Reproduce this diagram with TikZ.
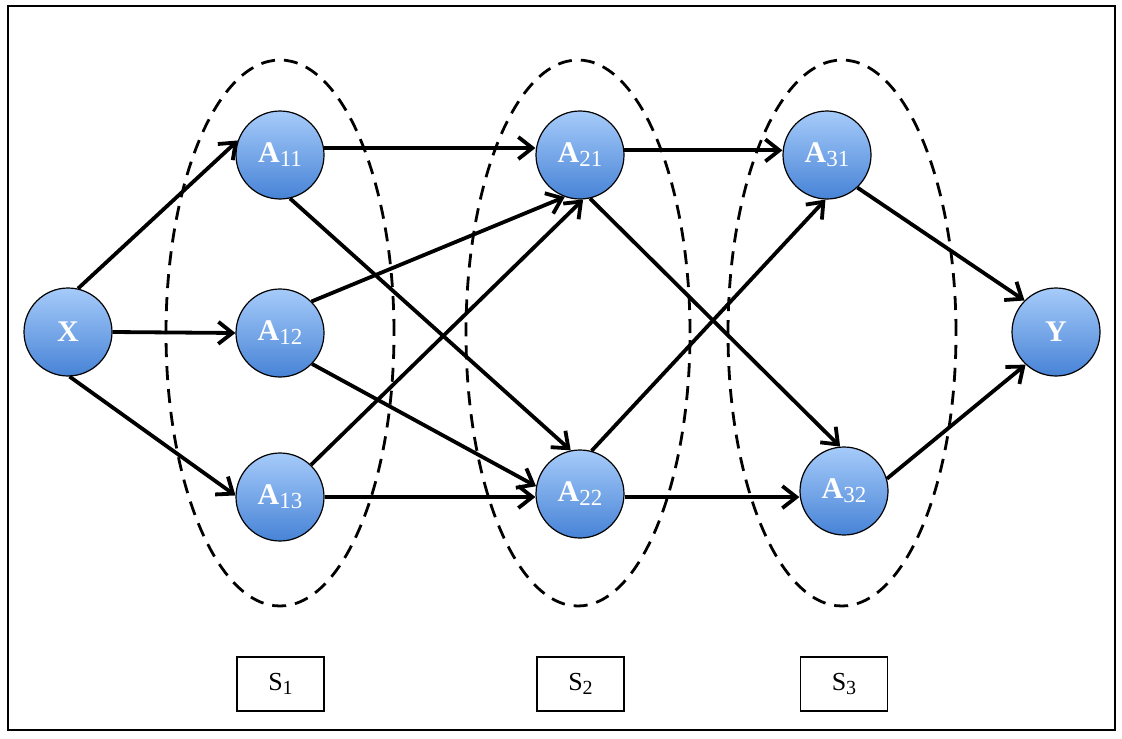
\documentclass[tikz,border=0pt]{standalone}
\usepackage{fontspec}
\setmainfont{Liberation Serif}
\usetikzlibrary{arrows.meta,shadings}
\definecolor{ctop}{HTML}{A6CBFA}
\definecolor{cbot}{HTML}{4783D6}
\newcommand{\subnum}[1]{\raisebox{-0.3ex}{\fontsize{11.5}{12}\selectfont\mdseries #1}}
\newcommand{\lblnum}[1]{\raisebox{-0.3ex}{\fontsize{10}{11}\selectfont #1}}
\tikzset{
  ball/.style={circle, draw=black, line width=0.6pt, minimum size=44pt, inner sep=0pt,
    top color=ctop, bottom color=cbot, text=white, font=\fontsize{15}{17}\selectfont\bfseries},
  grp/.style={draw=black, dash pattern=on 7pt off 4.5pt, line width=1.4pt},
  lbl/.style={draw=black, line width=0.7pt, minimum width=43.5pt, minimum height=27pt, inner sep=0pt,
    font=\fontsize{13}{15}\selectfont},
  arr/.style={line width=1.9pt, -{Straight Barb[length=7pt,width=11pt,line width=1.9pt]}}
}
\begin{document}
\begin{tikzpicture}[x=0.5pt,y=-0.5pt]
\useasboundingbox (0,0) rectangle (1122,738);
\draw[line width=1pt] (7.5,6.5) rectangle (1114.5,729.5);
% groups
\draw[grp] (280,333) ellipse [x radius=57pt, y radius=136.5pt];
\draw[grp] (578,333) ellipse [x radius=56pt, y radius=136.5pt];
\draw[grp] (842,333) ellipse [x radius=57pt, y radius=136.5pt];
% nodes
\node[ball] (X) at (68,332) {X};
\node[ball] (A11) at (280,155) {A\subnum{11}};
\node[ball] (A12) at (280,333) {A\subnum{12}};
\node[ball] (A13) at (280,497) {A\subnum{13}};
\node[ball] (A21) at (580,155) {A\subnum{21}};
\node[ball] (A22) at (580,494) {A\subnum{22}};
\node[ball] (A31) at (827,155) {A\subnum{31}};
\node[ball] (A32) at (844,491) {A\subnum{32}};
\node[ball] (Y) at (1056,332) {Y};
% labels
\node[lbl] (S1) at (280.5,684) {S\lblnum{1}};
\node[lbl] (S2) at (580.5,684) {S\lblnum{2}};
\node[lbl] (S3) at (844,684) {S\lblnum{3}};
% connectors
\draw[arr] (X.77) -- (A11.161);
\draw[arr] (X.east) -- (A12.west);
\draw[arr] (X.-88) -- (A13.178);
\draw[arr] (A11.9) -- (A11.9 -| A21.west);
\draw[arr] (A11.-77) -- (A22.102);
\draw[arr] (A12.45) -- (A21.-110);
\draw[arr] (A12.-44) -- (A22.170);
\draw[arr] (A13.46) -- (A21.-86);
\draw[arr] (A13.east) -- (A13.east -| A22.west);
\draw[arr] (A21.6) -- (A21.6 -| A31.west);
\draw[arr] (A21.-77) -- (A32.95);
\draw[arr] (A22.75) -- (A31.-92);
\draw[arr] (A22.-4) -- (A22.-4 -| A32.west);
\draw[arr] (A31.-47) -- (Y.135);
\draw[arr] (A32.16) -- (Y.-133);
\end{tikzpicture}
\end{document}
